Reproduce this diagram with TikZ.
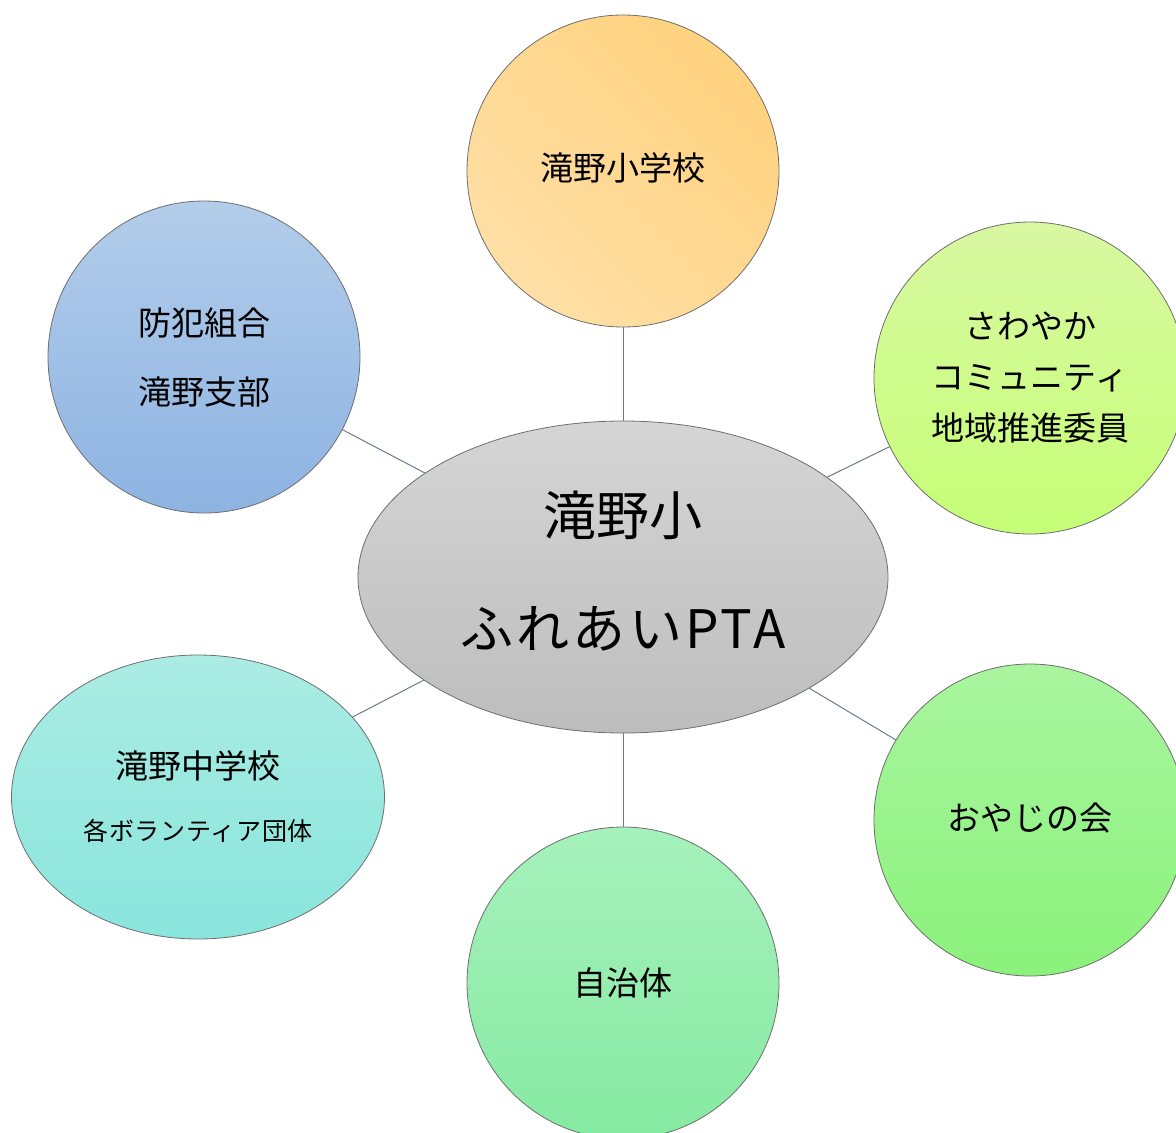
\documentclass[tikz,border=0pt]{standalone}
\usepackage{fontspec}
\newfontfamily\jp{Noto Sans CJK JP}
\usetikzlibrary{shapes.geometric}
\definecolor{orangeA}{HTML}{FFD27F}
\definecolor{orangeB}{HTML}{FFDFA6}
\definecolor{blueA}{HTML}{B3CDEA}
\definecolor{blueB}{HTML}{8DB3E2}
\definecolor{limeA}{HTML}{D8F8A2}
\definecolor{limeB}{HTML}{C6FE76}
\definecolor{grayA}{HTML}{D5D5D5}
\definecolor{grayB}{HTML}{BDBDBD}
\definecolor{cyanA}{HTML}{ABECE4}
\definecolor{cyanB}{HTML}{89E5DC}
\definecolor{greenA}{HTML}{A9F59F}
\definecolor{greenB}{HTML}{8AF27A}
\definecolor{mintA}{HTML}{A6F1BC}
\definecolor{mintB}{HTML}{86EAA2}
\definecolor{rimcol}{HTML}{6E6E6E}
\definecolor{linkcol}{HTML}{6A7A92}
\begin{document}
\begin{tikzpicture}[x=1pt,y=-1pt,
  bubble/.style={circle, draw=rimcol, line width=0.8pt, minimum size=312pt,
    inner sep=0pt, align=center, text=black,
    font=\jp\fontsize{33}{51}\selectfont},
  oval/.style={ellipse, draw=rimcol, line width=0.8pt, inner sep=0pt,
    align=center, text=black},
  caption/.style={inner sep=0pt, align=center, text=black},
  link/.style={draw=linkcol, line width=1pt}]
\useasboundingbox (0,0) rectangle (1176,1133);
\node[bubble, top color=orangeA, bottom color=orangeB, shading angle=-45] (school) at (623,171) {};
\node[caption, font=\jp\fontsize{33}{51}\selectfont] (schooltext) at (623,168) {滝野小学校};
\node[bubble, top color=blueA, bottom color=blueB, font=\jp\fontsize{33}{69}\selectfont] (crime) at (204,357) {防犯組合\\滝野支部};
\node[bubble, top color=limeA, bottom color=limeB] (comm) at (1030,378) {さわやか\\コミュニティ\\地域推進委員};
\node[oval, top color=grayA, bottom color=grayB, minimum width=530pt, minimum height=312pt] (hub) at (623,577) {};
\node[caption, font=\jp\fontsize{53}{113}\selectfont] (hubtext) at (623,571)
  {滝野小\\{\addfontfeature{LetterSpace=6}ふれあいPTA}};
\node[oval, top color=cyanA, bottom color=cyanB, minimum width=373pt, minimum height=284pt,
  font=\jp\fontsize{33}{62}\selectfont] (junior) at (198,797)
  {滝野中学校\\{\fontsize{25}{62}\selectfont\addfontfeature{LetterSpace=3}各ボランティア団体}};
\node[bubble, top color=greenA, bottom color=greenB] (dads) at (1030,820) {};
\node[caption, font=\jp\fontsize{33}{51}\selectfont] (dadstext) at (1030,818) {おやじの会};
\node[bubble, top color=mintA, bottom color=mintB] (city) at (623,983) {自治体};
\draw[link] (school) -- (hub);
\draw[link] (crime) -- (hub);
\draw[link] (comm) -- (hub);
\draw[link] (junior) -- (hub);
\draw[link] (dads) -- (hub);
\draw[link] (city) -- (hub);
\end{tikzpicture}
\end{document}
